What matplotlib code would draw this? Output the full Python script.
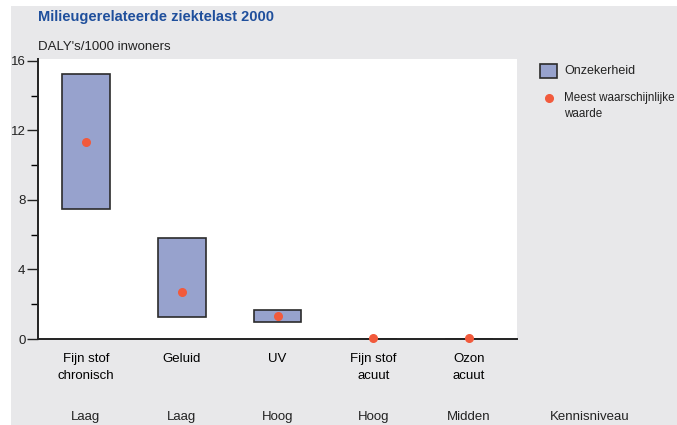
import matplotlib.pyplot as plt
from matplotlib.patches import Rectangle
from matplotlib.transforms import blended_transform_factory
import numpy as np

plt.rcParams['font.family'] = ['Liberation Sans Narrow', 'Liberation Sans', 'DejaVu Sans']

categories = ['Fijn stof\nchronisch', 'Geluid', 'UV', 'Fijn stof\nacuut', 'Ozon\nacuut']
low = [7.45, 1.25, 0.98, 0.0, 0.0]
high = [15.25, 5.8, 1.67, 0.0, 0.0]
best = [11.3, 2.7, 1.3, 0.03, 0.03]
kennis = ['Laag', 'Laag', 'Hoog', 'Hoog', 'Midden']

bar_fill = '#97a2cd'
dot_col = '#f25a3c'
bg = '#e8e8ea'

fig = plt.figure(figsize=(6.77, 4.25), dpi=100)
fig.patch.set_facecolor('white')
# grey panel (leaves a thin white strip left and top)
fig.patches.append(Rectangle((11 / 677, 0), 1, 1 - 6 / 425, transform=fig.transFigure,
                             facecolor=bg, edgecolor='none', zorder=-10))

ax = fig.add_axes([38 / 677, 1 - 339 / 425, (517 - 38) / 677, (339 - 59) / 425])
ax.set_facecolor('white')

x = np.arange(len(categories))
ax.bar(x, np.array(high) - np.array(low), bottom=low, width=0.5,
       color=bar_fill, edgecolor='#2b2b2b', linewidth=1.2, zorder=2)
ax.scatter(x, best, s=30, color=dot_col, zorder=3, clip_on=False)

ax.set_xlim(-0.5, 4.5)
ax.set_ylim(0, 16.1)
ax.set_yticks([0, 4, 8, 12, 16])
ax.set_yticks([2, 6, 10, 14], minor=True)
ax.tick_params(axis='y', which='major', length=8, width=1, labelsize=9.5, pad=1, colors='#222222')
ax.tick_params(axis='y', which='minor', length=5, width=1)
ax.set_xticks(x)
ax.set_xticklabels(categories, fontsize=9.5, linespacing=1.6)
ax.tick_params(axis='x', length=0, pad=10)
for s in ['top', 'right']:
    ax.spines[s].set_visible(False)
for s in ['left', 'bottom']:
    ax.spines[s].set_linewidth(1.4)
    ax.spines[s].set_color('#222222')

# titles
fig.text(38 / 677, 1 - 17 / 425, 'Milieugerelateerde ziektelast 2000', fontsize=10.5,
         fontweight='bold', color='#1f4f9c', va='center')
fig.text(38 / 677, 1 - 47 / 425, "DALY's/1000 inwoners", fontsize=9.5, color='#222222', va='center')

# kennisniveau row
trans = blended_transform_factory(ax.transData, fig.transFigure)
for xi, k in zip(x, kennis):
    ax.text(xi, 1 - 417 / 425, k, transform=trans, ha='center', va='center',
            fontsize=9.5, color='#222222', clip_on=False)
fig.text(590 / 677, 1 - 417 / 425, 'Kennisniveau', fontsize=9.5, ha='center', va='center', color='#222222')

# legend
fig.patches.append(Rectangle((540 / 677, 1 - 78 / 425), 17 / 677, 14 / 425, transform=fig.transFigure,
                             facecolor=bar_fill, edgecolor='#2b2b2b', linewidth=1.2))
fig.text(564 / 677, 1 - 71 / 425, 'Onzekerheid', fontsize=9, va='center', color='#222222')
fig.lines.append(plt.Line2D([549 / 677], [1 - 98 / 425], transform=fig.transFigure, marker='o',
                            markersize=5.5, color=dot_col, linestyle='none'))
fig.text(564 / 677, 1 - 106 / 425, 'Meest waarschijnlijke\nwaarde', fontsize=8.4, va='center',
         color='#222222', linespacing=1.35)

fig.savefig('out.png', dpi=100, facecolor=fig.get_facecolor())
